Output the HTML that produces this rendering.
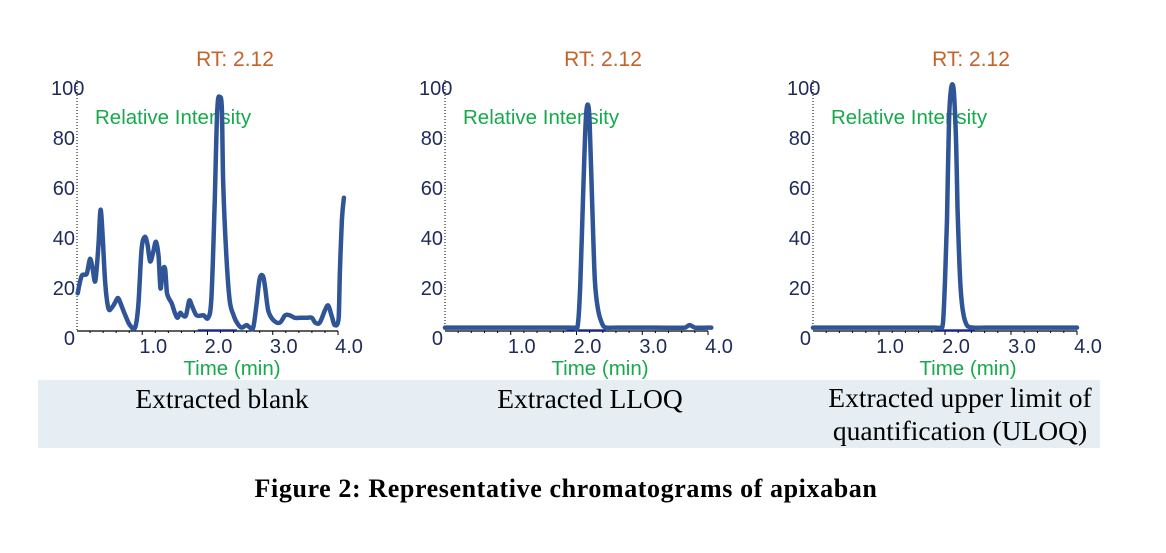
<!DOCTYPE html>
<html><head><meta charset="utf-8"><style>
html,body{margin:0;padding:0;background:#fff;}
svg{display:block;}
.tk{font-family:"Liberation Sans",sans-serif;font-size:20px;fill:#1f2a5a;}
.rt{font-family:"Liberation Sans",sans-serif;font-size:21px;fill:#c5622a;}
.gr{font-family:"Liberation Sans",sans-serif;font-size:20.5px;fill:#17a94c;}
.cap{font-family:"Liberation Serif",serif;font-size:27.5px;fill:#000;}
.ttl{font-family:"Liberation Serif",serif;font-size:26px;font-weight:bold;fill:#000;letter-spacing:0.6px;}
</style></head><body>
<svg id="fig" width="1166" height="553" viewBox="0 0 1166 553">
<rect x="38" y="380" width="1062" height="68" fill="#e7eef3"/>
<text class="cap" x="222" y="408" text-anchor="middle">Extracted blank</text>
<text class="cap" x="590" y="408" text-anchor="middle">Extracted LLOQ</text>
<text class="cap" x="960" y="407" text-anchor="middle">Extracted upper limit of</text>
<text class="cap" x="960" y="440" text-anchor="middle">quantification (ULOQ)</text>
<text class="ttl" x="566" y="497" text-anchor="middle">Figure 2: Representative chromatograms of apixaban</text>
</svg>
<script>
const yTicks=[0,20,40,60,80,100];
const xTicks=[1.0,2.0,3.0,4.0];
const xTickLabels=["1.0","2.0","3.0","4.0"];
const blankTime=[0.01,0.07,0.15,0.20,0.24,0.28,0.33,0.36,0.39,0.43,0.48,0.53,0.58,0.63,0.68,0.74,0.81,0.89,0.94,0.99,1.04,1.08,1.12,1.17,1.21,1.25,1.28,1.31,1.35,1.38,1.45,1.50,1.54,1.58,1.62,1.67,1.72,1.76,1.83,1.94,2.01,2.06,2.11,2.15,2.19,2.22,2.24,2.29,2.34,2.40,2.45,2.52,2.60,2.65,2.70,2.75,2.80,2.85,2.88,2.93,3.01,3.11,3.19,3.26,3.34,3.42,3.52,3.60,3.65,3.72,3.80,3.85,3.90,3.95,4.01,4.03,4.06,4.09];
const blankInt=[15,22,23,29,25,20,35,49,40,20,9,9,11,13,10,6,2,1,10,33,38,35,28,32,36,30,17,24,25,15,11,7,5,7,6,6,12,10,6,6,5,13,52,90,95,90,60,30,12,6,3,1,2,1,1,10,21,22,18,8,4,3,6,6,5,5,5,5,3,3,8,10,6,2,5,25,45,54];
const lloqTime=[0,1.0,1.9,1.97,2.02,2.06,2.10,2.14,2.17,2.20,2.24,2.28,2.33,2.40,2.46,2.6,3.0,3.65,3.72,3.80,4.05];
const lloqInt=[1,1,1,1,2,20,55,85,92,85,50,20,8,2,1,1,1,1,2,1,1];
const uloqTime=[0,1.0,1.85,1.93,1.97,2.00,2.03,2.06,2.09,2.12,2.14,2.17,2.19,2.23,2.27,2.33,2.43,2.6,3.0,4.0];
const uloqInt=[1,1,1,1,3,20,45,85,98,100,95,75,50,20,8,2,1,1,1,1];
const NS="http://www.w3.org/2000/svg";
const svg=document.getElementById('fig');
function mk(tag,attrs,parent,text){const e=document.createElementNS(NS,tag);for(const k in attrs)e.setAttribute(k,attrs[k]);if(text!==undefined)e.textContent=text;(parent||svg).appendChild(e);return e;}
function smooth(pts){let d='M'+pts[0][0].toFixed(1)+','+pts[0][1].toFixed(1);for(let i=0;i<pts.length-1;i++){const p0=pts[i-1]||pts[i],p1=pts[i],p2=pts[i+1],p3=pts[i+2]||p2;let k1=Math.min(1,(p2[0]-p1[0])/Math.max(1e-6,(p2[0]-p0[0]))*2),k2=Math.min(1,(p2[0]-p1[0])/Math.max(1e-6,(p3[0]-p1[0]))*2);const c1=[p1[0]+(p2[0]-p0[0])/6*k1,p1[1]+(p2[1]-p0[1])/6*k1],c2=[p2[0]-(p3[0]-p1[0])/6*k2,p2[1]-(p3[1]-p1[1])/6*k2];d+='C'+c1[0].toFixed(1)+','+c1[1].toFixed(1)+' '+c2[0].toFixed(1)+','+c2[1].toFixed(1)+' '+p2[0].toFixed(1)+','+p2[1].toFixed(1);}return d;}
const panels=[{x0:77,x1:338,t:blankTime,v:blankInt,name:'blank'},{x0:445,x1:708,t:lloqTime,v:lloqInt,name:'lloq'},{x0:813,x1:1077,t:uloqTime,v:uloqInt,name:'uloq'}];
const yZero=330,yTop=85;
panels.forEach(p=>{
  const g=mk('g',{});
  
  
  const xs=t=>p.x0+t/4*(p.x1-p.x0);
  const ys=v=>yZero-v/100*(yZero-yTop);
  const ya=mk('line',{x1:p.x0,y1:yZero,x2:p.x0,y2:80,stroke:'#000','stroke-width':1,'stroke-dasharray':'1,2'},g);
  
  const xa=mk('line',{x1:p.x0,y1:yZero+1,x2:p.x1,y2:yZero+1,stroke:'#000','stroke-width':1.2},g);
  
  for(let i=1;i<=20;i++){const tx=xs(i*0.2);mk('line',{x1:tx,y1:yZero+1,x2:tx,y2:yZero+(i%5==0?5:3),stroke:'#000','stroke-width':1},g);}
  yTicks.forEach(v=>{
    const t=mk('text',{class:'tk',x:p.x0-2,y:338-v*2.5+7,'text-anchor':'end'},g,String(v));
    if(v==100){t.setAttribute('x',p.x0-26);t.setAttribute('text-anchor','start');}
    
  });
  xTicks.forEach((v,i)=>{
    const t=mk('text',{class:'tk',x:xs(v)+11,y:353,'text-anchor':'middle'},g,xTickLabels[i]);
    
  });
  const rt=mk('text',{class:'rt',x:p.x0+158,y:66,'text-anchor':'middle'},g,'RT: 2.12');
  
  const ri=mk('text',{class:'gr',x:p.x0+18,y:124},g,'Relative Intensity');
  
  const tm=mk('text',{class:'gr',x:p.x0+155,y:375,'text-anchor':'middle'},g,'Time (min)');
  
  const bl=mk('line',{x1:xs(1.85),y1:yZero,x2:xs(2.45),y2:yZero,stroke:'#1a2cf0','stroke-width':1.5},g);
  
  const pts=p.t.map((t,i)=>[xs(t),ys(p.v[i])]);
  const path=mk('path',{d:smooth(pts),fill:'none',stroke:'#2f5597','stroke-width':4.5,'stroke-linejoin':'round','stroke-linecap':'round'},g);
  
  
});
</script>
</body></html>
